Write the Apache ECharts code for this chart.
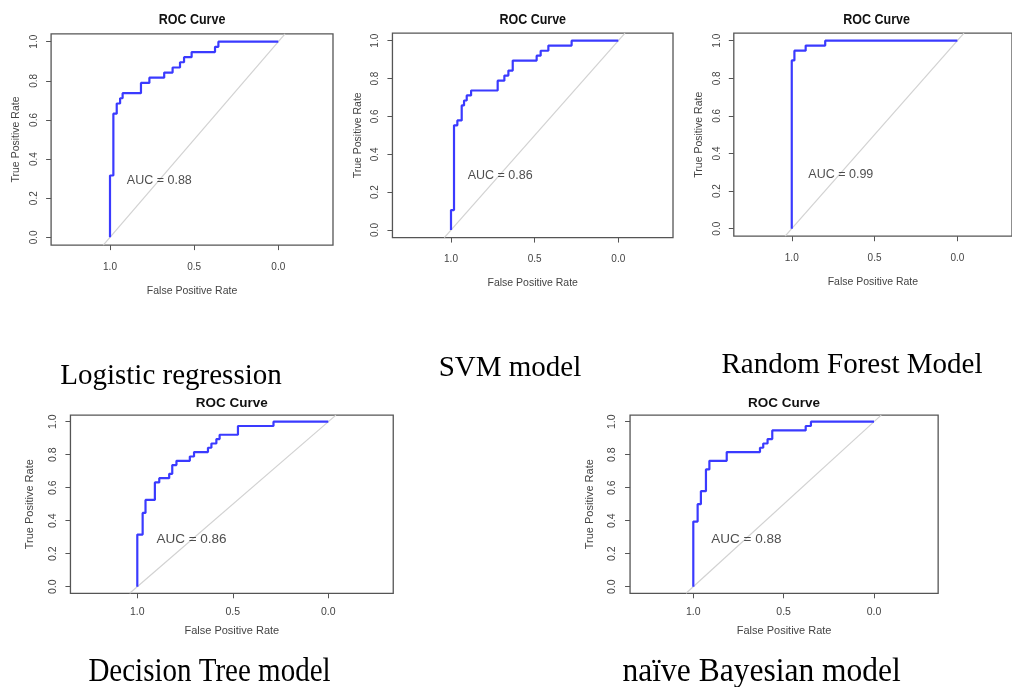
<!DOCTYPE html>
<html>
<head>
<meta charset="utf-8">
<script src="https://cdn.jsdelivr.net/npm/echarts@6/dist/echarts.min.js"></script>
<style>
html,body{margin:0;padding:0;background:#fff;}
#chart{width:1012px;height:687px;}
</style>
</head>
<body>
<div id="chart"></div>
<script>
// ---- data ----
const modelNames = ['Logistic regression', 'SVM model', 'Random Forest Model', 'Decision Tree model', 'naïve Bayesian model'];
const aucValues = [0.88, 0.86, 0.99, 0.86, 0.88];

// step vertices: specificity (x, reversed axis) and sensitivity (y)
const lrSpec = [1.0, 0.98, 0.96, 0.94, 0.925, 0.816, 0.766, 0.678, 0.628, 0.584, 0.56, 0.515, 0.376, 0.356, 0.0];
const lrSens = [0.0, 0.316, 0.632, 0.684, 0.711, 0.737, 0.789, 0.816, 0.842, 0.868, 0.895, 0.921, 0.947, 0.974, 1.0];

const svmSpec = [1.0, 0.982, 0.962, 0.936, 0.922, 0.906, 0.88, 0.721, 0.681, 0.657, 0.631, 0.488, 0.464, 0.418, 0.279, 0.0];
const svmSens = [0.0, 0.105, 0.553, 0.579, 0.658, 0.684, 0.711, 0.737, 0.789, 0.816, 0.842, 0.895, 0.921, 0.947, 0.974, 1.0];

const rfSpec = [1.0, 0.984, 0.916, 0.798, 0.0];
const rfSens = [0.0, 0.895, 0.947, 0.974, 1.0];

const dtSpec = [1.0, 0.972, 0.957, 0.908, 0.885, 0.833, 0.817, 0.795, 0.725, 0.703, 0.63, 0.612, 0.586, 0.569, 0.473, 0.287, 0.0];
const dtSens = [0.0, 0.316, 0.447, 0.526, 0.632, 0.658, 0.684, 0.737, 0.763, 0.789, 0.816, 0.842, 0.868, 0.895, 0.921, 0.974, 1.0];

const nbSpec = [1.0, 0.976, 0.958, 0.93, 0.911, 0.815, 0.631, 0.613, 0.589, 0.563, 0.378, 0.349, 0.0];
const nbSens = [0.0, 0.395, 0.5, 0.579, 0.711, 0.763, 0.816, 0.842, 0.868, 0.895, 0.947, 0.974, 1.0];

const diagSpec = [1.04, -0.04];
const diagSens = [-0.04, 1.04];

const xTickValues = [0, 0.5, 1.0];
const yTickValues = [0, 0.2, 0.4, 0.6, 0.8, 1.0];
const aucPos = [0.9, 0.29];

const curveSpec = [lrSpec, svmSpec, rfSpec, dtSpec, nbSpec];
const curveSens = [lrSens, svmSens, rfSens, dtSens, nbSens];

// ---- layout ----
const XMAX = 1.35, YMIN = -0.04, YMAX = 1.04;
const panels = [
  {x1:110,   x0:278.3, y1:41.7,  y0:237.3, xmin:-0.325, titleY:20,  big:false},
  {x1:451,   x0:618.3, y1:40.7,  y0:230,   xmin:-0.327, titleY:20,  big:false},
  {x1:793.3, x0:963.3, y1:40.7,  y0:228.7, xmin:-0.33,  titleY:20,  big:false},
  {x1:137.3, x0:328.3, y1:421.7, y0:586.7, xmin:-0.34,  titleY:404, big:true},
  {x1:693.3, x0:874,   y1:421.7, y0:586.7, xmin:-0.355, titleY:404, big:true}
];
const captions = [
  {x:171,   y:376, size:29,   sy:1.0},
  {x:510,   y:368, size:29,   sy:1.0},
  {x:852,   y:365, size:29,   sy:1.0},
  {x:209.5, y:672, size:29,   sy:1.14},
  {x:761.7, y:672, size:31.5, sy:1.09}
];

const SANS = 'Liberation Sans, Arial, sans-serif';
const SERIF = 'Liberation Serif, Times New Roman, serif';
const fmt = v => v.toFixed(1);

const grid = [], xAxis = [], yAxis = [], series = [], graphic = [];
panels.forEach((p, i) => {
  const ux = p.x0 - p.x1, uy = p.y0 - p.y1;
  const left = p.x1 - (XMAX - 1) * ux;
  const width = (XMAX - p.xmin) * ux;
  const top = p.y1 - (YMAX - 1) * uy;
  const height = (YMAX - YMIN) * uy;
  const lf = p.big ? 10.5 : 10;
  const nf = p.big ? 11 : 10.5;
  grid.push({left, top, width, height, show:true, borderColor:'#555', borderWidth:1.3, backgroundColor:'#fff', containLabel:false});
  xAxis.push({
    type:'value', gridIndex:i, inverse:true, min:p.xmin, max:XMAX,
    name:'False Positive Rate', nameLocation:'middle', nameGap: p.big ? 32 : 40,
    nameTextStyle:{fontFamily:SANS, fontSize:nf, color:'#444'},
    axisLine:{show:false, onZero:false}, splitLine:{show:false},
    axisTick:{show:true, inside:false, length:5, customValues:xTickValues, lineStyle:{color:'#555', width:1}},
    axisLabel:{show:true, customValues:xTickValues, formatter:fmt, margin: p.big ? 13 : 17, fontFamily:SANS, fontSize:lf, color:'#444'}
  });
  yAxis.push({
    type:'value', gridIndex:i, min:YMIN, max:YMAX,
    name:'True Positive Rate', nameLocation:'middle', nameGap: p.big ? 35 : 29,
    nameTextStyle:{fontFamily:SANS, fontSize:nf, color:'#444'},
    axisLine:{show:false, onZero:false}, splitLine:{show:false},
    axisTick:{show:true, inside:false, length:5, customValues:yTickValues, lineStyle:{color:'#555', width:1}},
    axisLabel:{show:true, rotate:90, customValues:yTickValues, formatter:fmt, margin:12, fontFamily:SANS, fontSize:lf, color:'#444'}
  });
  series.push({
    type:'line', xAxisIndex:i, yAxisIndex:i, silent:true, symbol:'none',
    data: diagSpec.map((x, k) => [x, diagSens[k]]),
    lineStyle:{color:'#d2d2d2', width:1.2}, clip:true, z:2
  });
  series.push({
    type:'line', xAxisIndex:i, yAxisIndex:i, silent:true, symbol:'none', step:'start',
    data: curveSpec[i].map((x, k) => [x, curveSens[i][k]]),
    lineStyle:{color:'#3a3aff', width:2.2}, z:3
  });
  series.push({
    type:'scatter', xAxisIndex:i, yAxisIndex:i, silent:true, symbolSize:0,
    data:[aucPos],
    itemStyle:{color:'transparent'},
    label:{show:true, position:'right', distance:0, formatter:'AUC = ' + aucValues[i].toFixed(2),
      fontFamily:SANS, fontSize: p.big ? 13.5 : 12.5, color:'#222'}, z:4
  });
  graphic.push({
    type:'text', x:left + width / 2, y:p.titleY, scaleY: p.big ? 0.92 : 1.12,
    style:{text:'ROC Curve', align:'center', verticalAlign:'middle', fill:'#111',
      font:'bold ' + (p.big ? 13.5 : 12.5) + 'px ' + SANS}
  });
  const c = captions[i];
  graphic.push({
    type:'text', x:c.x, y:c.y, scaleY:c.sy,
    style:{text:modelNames[i], align:'center', verticalAlign:'middle', fill:'#000',
      font:c.size + 'px ' + SERIF}
  });
});

const chart = echarts.init(document.getElementById('chart'), null, {renderer:'canvas'});
chart.setOption({
  backgroundColor:'#fff',
  animation:false,
  grid, xAxis, yAxis, series, graphic
});
</script>
</body>
</html>
